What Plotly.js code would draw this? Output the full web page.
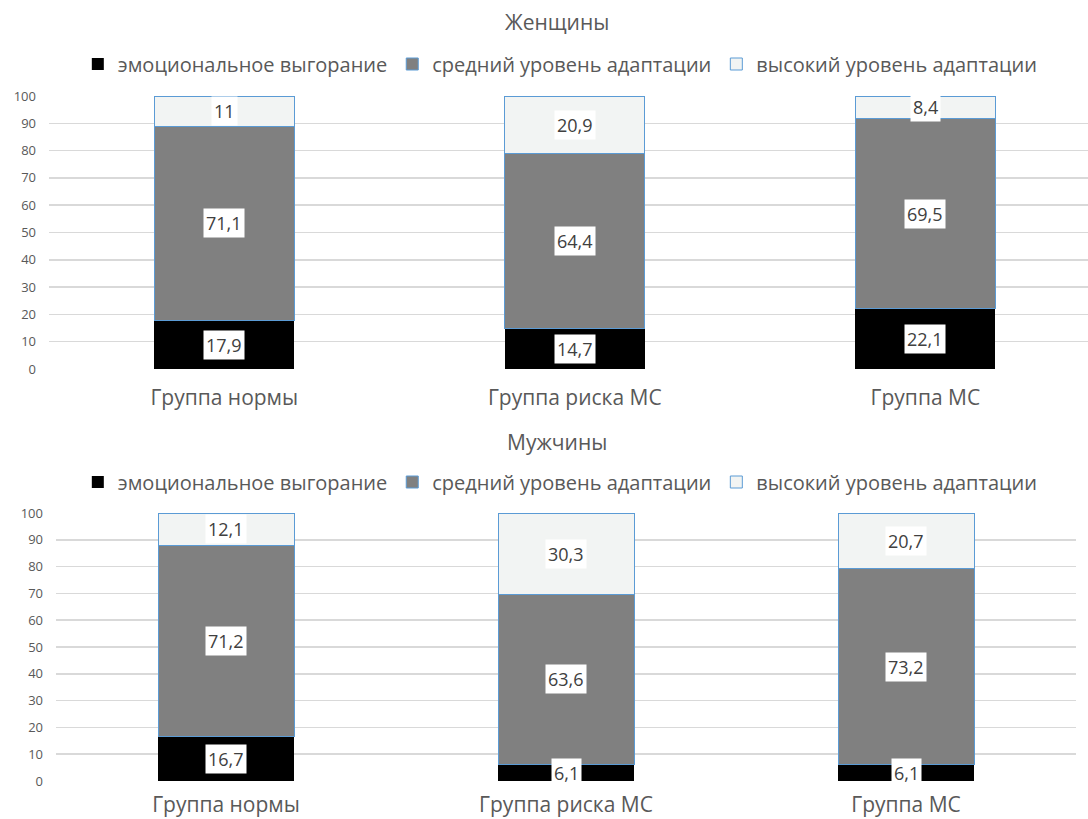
<!DOCTYPE html>
<html>
<head>
<meta charset="utf-8">
<script src="https://cdn.plot.ly/plotly-3.0.1.min.js"></script>
<style>html,body{margin:0;padding:0;background:#fff;}#chart{width:1088px;height:819px;}</style>
</head>
<body>
<div id="chart"></div>
<script>
const categories = ["Группа нормы", "Группа риска МС", "Группа МС"];
const seriesNames = ["эмоциональное выгорание", "средний уровень адаптации", "высокий уровень адаптации"];
const womenBurnout = [17.9, 14.7, 22.1];
const womenMedium = [71.1, 64.4, 69.5];
const womenHigh = [11, 20.9, 8.4];
const menBurnout = [16.7, 6.1, 6.1];
const menMedium = [71.2, 63.6, 73.2];
const menHigh = [12.1, 30.3, 20.7];
const panelTitles = ["Женщины", "Мужчины"];
const yTicks = [0, 10, 20, 30, 40, 50, 60, 70, 80, 90, 100];

const FONT = "Open Sans, sans-serif";
const fills = ["#000000", "#808080", "#f2f4f3"];
const lines = ["#000000", "#5b9bd5", "#5b9bd5"];

function fmt(v){ return String(v).replace('.', ','); }

const traces = [];
const annotations = [];
function addPanel(series, xa, ya, legendName){
  const base = [0,0,0];
  series.forEach((vals, si) => {
    traces.push({
      type: 'bar', x: categories, y: vals, name: seriesNames[si],
      xaxis: xa, yaxis: ya, legend: legendName,
      marker: {color: fills[si], line: {color: lines[si], width: si === 0 ? 0 : 1}},
      width: 0.4, hoverinfo: 'none'
    });
    vals.forEach((v, ci) => {
      annotations.push({
        x: categories[ci], y: base[ci] + v/2, xref: xa, yref: ya,
        text: fmt(v), showarrow: false, bgcolor: '#ffffff', borderpad: 2,
        font: {family: FONT, size: 18, color: '#404040'}
      });
      base[ci] += v;
    });
  });
}
addPanel([womenBurnout, womenMedium, womenHigh], 'x', 'y', 'legend');
addPanel([menBurnout, menMedium, menHigh], 'x2', 'y2', 'legend2');

annotations.push({xref:'paper', yref:'paper', x: 557/1088, y: (819-22)/819, yanchor:'middle', text: panelTitles[0], showarrow:false, font:{family:FONT, size:21, color:'#595959'}});
annotations.push({xref:'paper', yref:'paper', x: 557/1088, y: (819-442)/819, yanchor:'middle', text: panelTitles[1], showarrow:false, font:{family:FONT, size:21, color:'#595959'}});

const yaxisBase = {
  range: [0, 100], tickvals: yTicks, showgrid: true, gridcolor: '#d9d9d9', gridwidth: 1.5,
  zeroline: false, showline: false, ticks: '', ticklabelstandoff: 12,
  tickfont: {family: FONT, size: 13, color: '#595959'}, fixedrange: true
};
const xaxisBase = {
  showgrid: false, zeroline: false, showline: false, ticks: '',
  tickfont: {family: FONT, size: 21, color: '#595959'}, fixedrange: true
};
const legendBase = {
  orientation: 'h', xanchor: 'center', x: 0.515, yanchor: 'middle',
  font: {family: FONT, size: 20, color: '#595959'}, traceorder: 'normal',
  itemwidth: 30, bgcolor: 'rgba(0,0,0,0)'
};

const layout = {
  width: 1088, height: 819, paper_bgcolor: '#fff', plot_bgcolor: '#fff',
  margin: {l: 0, r: 0, t: 0, b: 0},
  barmode: 'stack', showlegend: true,
  xaxis: Object.assign({}, xaxisBase, {domain: [49/1088, 1], range: [-0.5, 2.464], anchor: 'y', ticklabelstandoff: 14}),
  yaxis: Object.assign({}, yaxisBase, {domain: [(819-369)/819, (819-96)/819], anchor: 'x'}),
  xaxis2: Object.assign({}, xaxisBase, {domain: [56/1088, 1076/1088], range: [-0.5, 2.5], anchor: 'y2', ticklabelstandoff: 9}),
  yaxis2: Object.assign({}, yaxisBase, {domain: [(819-781)/819, (819-513)/819], anchor: 'x2'}),
  legend: Object.assign({}, legendBase, {y: (819-64)/819}),
  legend2: Object.assign({}, legendBase, {y: (819-482)/819}),
  annotations: annotations
};
Plotly.newPlot('chart', traces, layout, {staticPlot: true, displayModeBar: false});
</script>
</body>
</html>
